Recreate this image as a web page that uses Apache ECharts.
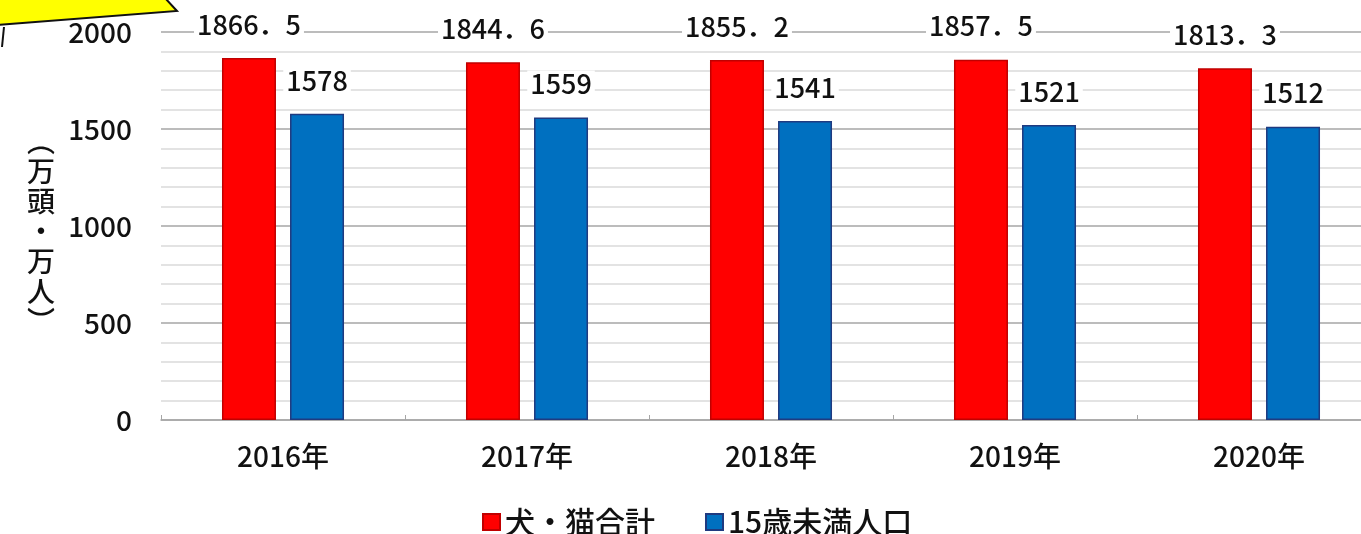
<!DOCTYPE html>
<html>
<head>
<meta charset="utf-8">
<script src="https://cdn.jsdelivr.net/npm/echarts@6/dist/echarts.min.js"></script>
<style>
  html, body { margin: 0; padding: 0; background: #fff; }
  #chart { width: 1361px; height: 534px; }
</style>
</head>
<body>
<div id="chart"></div>
<script>
// data
const years = ["2016年", "2017年", "2018年", "2019年", "2020年"];
const petTotal = [1866.5, 1844.6, 1855.2, 1857.5, 1813.3];   // 犬・猫合計
const under15 = [1578, 1559, 1541, 1521, 1512];              // 15歳未満人口
const seriesNames = ["犬・猫合計", "15歳未満人口"];
const yMin = 0;
const yMax = 2000;
const yStep = 500;

const font = '"Noto Sans CJK JP", "Noto Sans", sans-serif';

// labels use a wide full-width point like the original
const fmtLabel = (p) => String(p.value).replace(".", "．");

const labelStyle = {
  show: true,
  position: "top",
  distance: 20,
  fontSize: 27,
  fontFamily: font,
  fontWeight: 500,
  color: "#111",
  backgroundColor: "#fff",
  padding: [0, 3],
  formatter: fmtLabel,
};

const myChart = echarts.init(document.getElementById("chart"));
myChart.setOption({
  animation: false,
  textStyle: { fontFamily: font },
  grid: {
    left: 161,
    top: 32,
    width: 1220,
    bottom: 114,
    containLabel: false,
    outerBoundsMode: "none",
  },
  legend: {
    data: seriesNames,
    left: 477,
    top: 502,
    itemWidth: 17,
    itemHeight: 16,
    itemGap: 50,
    icon: "rect",
    textStyle: { fontSize: 30, fontFamily: font, fontWeight: 500, color: "#111" },
  },
  xAxis: {
    type: "category",
    data: years,
    axisLine: { lineStyle: { color: "#a6a6a6", width: 1.5 } },
    axisTick: { show: true, inside: true, length: 5, lineStyle: { color: "#a6a6a6" } },
    axisLabel: { fontSize: 28, fontWeight: 500, color: "#111", margin: 22 },
  },
  yAxis: {
    type: "value",
    min: yMin,
    max: yMax,
    interval: yStep,
    axisLine: { show: false },
    axisTick: { show: false },
    axisLabel: { fontSize: 28, fontWeight: 500, color: "#111", margin: 29, formatter: (v) => String(v) },
    splitLine: { lineStyle: { color: "#a6a6a6", width: 1.5 } },
    minorTick: { show: false, splitNumber: 5 },
    minorSplitLine: { show: true, lineStyle: { color: "#dadada", width: 1.5 } },
  },
  series: [
    {
      name: seriesNames[0],
      type: "bar",
      data: petTotal,
      barWidth: 54,
      barGap: "26%",
      itemStyle: { color: "#ff0000", borderColor: "#c00000", borderWidth: 1.5 },
      label: labelStyle,
    },
    {
      name: seriesNames[1],
      type: "bar",
      data: under15,
      barWidth: 54,
      itemStyle: { color: "#0070c0", borderColor: "#1f3a80", borderWidth: 1.5 },
      label: labelStyle,
    },
  ],
  graphic: [
    {
      type: "text",
      left: 27,
      top: 126,
      style: {
        text: "︵\n万\n頭\n・\n万\n人\n︶",
        fontSize: 28,
        lineHeight: 30,
        fontFamily: font,
        fontWeight: 500,
        fill: "#111",
        align: "center",
      },
    },
    {
      // yellow callout cut off at the top-left corner
      type: "polygon",
      shape: { points: [[-2, -2], [165, -2], [177, 11], [-2, 25]] },
      style: { fill: "#ffff00", stroke: "#111", lineWidth: 2 },
    },
    {
      type: "line",
      shape: { x1: 4, y1: 27, x2: 2, y2: 47 },
      style: { stroke: "#111", lineWidth: 2 },
    },
  ],
});
</script>
</body>
</html>
